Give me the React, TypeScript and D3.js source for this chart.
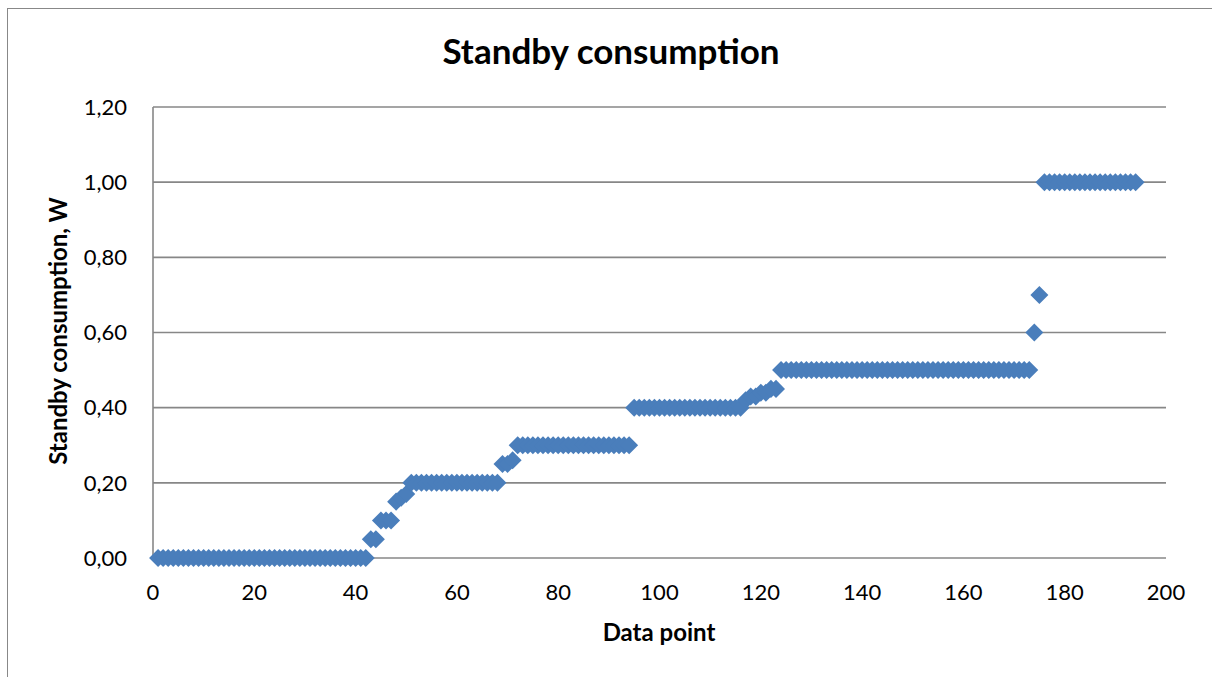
import { useEffect, useRef } from 'react'
import * as d3 from 'd3'

const W = 1212
const H = 677

// standby consumption (W) per data point, 1..194
const values: number[] = [
  0, 0, 0, 0, 0, 0, 0, 0, 0, 0,
  0, 0, 0, 0, 0, 0, 0, 0, 0, 0,
  0, 0, 0, 0, 0, 0, 0, 0, 0, 0,
  0, 0, 0, 0, 0, 0, 0, 0, 0, 0,
  0, 0, 0.05, 0.05, 0.1, 0.1, 0.1, 0.15, 0.16, 0.17,
  0.2, 0.2, 0.2, 0.2, 0.2, 0.2, 0.2, 0.2, 0.2, 0.2,
  0.2, 0.2, 0.2, 0.2, 0.2, 0.2, 0.2, 0.2, 0.25, 0.25,
  0.26, 0.3, 0.3, 0.3, 0.3, 0.3, 0.3, 0.3, 0.3, 0.3,
  0.3, 0.3, 0.3, 0.3, 0.3, 0.3, 0.3, 0.3, 0.3, 0.3,
  0.3, 0.3, 0.3, 0.3, 0.4, 0.4, 0.4, 0.4, 0.4, 0.4,
  0.4, 0.4, 0.4, 0.4, 0.4, 0.4, 0.4, 0.4, 0.4, 0.4,
  0.4, 0.4, 0.4, 0.4, 0.4, 0.4, 0.42, 0.43, 0.43, 0.44,
  0.44, 0.45, 0.45, 0.5, 0.5, 0.5, 0.5, 0.5, 0.5, 0.5,
  0.5, 0.5, 0.5, 0.5, 0.5, 0.5, 0.5, 0.5, 0.5, 0.5,
  0.5, 0.5, 0.5, 0.5, 0.5, 0.5, 0.5, 0.5, 0.5, 0.5,
  0.5, 0.5, 0.5, 0.5, 0.5, 0.5, 0.5, 0.5, 0.5, 0.5,
  0.5, 0.5, 0.5, 0.5, 0.5, 0.5, 0.5, 0.5, 0.5, 0.5,
  0.5, 0.5, 0.5, 0.6, 0.7, 1, 1, 1, 1, 1,
  1, 1, 1, 1, 1, 1, 1, 1, 1, 1,
  1, 1, 1, 1,
]
const points = values.map((v, i) => ({ x: i + 1, y: v }))

const xTicks = [0, 20, 40, 60, 80, 100, 120, 140, 160, 180, 200]
const yTicks = [0, 0.2, 0.4, 0.6, 0.8, 1.0, 1.2]

const FONT = 'Lato, "Open Sans", sans-serif'

export default function App() {
  const svgRef = useRef<SVGSVGElement | null>(null)

  useEffect(() => {
    if (!svgRef.current) return
    const svg = d3.select(svgRef.current)
    svg.selectAll('*').remove()

    const x = d3.scaleLinear().domain([0, 200]).range([153, 1166])
    const y = d3.scaleLinear().domain([0, 1.2]).range([558, 107])
    const fmt = (v: number) => v.toFixed(2).replace('.', ',')

    svg.append('rect').attr('width', W).attr('height', H).attr('fill', '#fff')

    // rámeček grafu
    svg
      .append('rect')
      .attr('x', 7.5)
      .attr('y', 8.5)
      .attr('width', W + 10)
      .attr('height', H + 10)
      .attr('fill', 'none')
      .attr('stroke', '#888')
      .attr('stroke-width', 1)

    // mřížka
    svg
      .append('g')
      .selectAll('line')
      .data(yTicks)
      .join('line')
      .attr('x1', x(0))
      .attr('x2', x(200))
      .attr('y1', (d) => y(d))
      .attr('y2', (d) => y(d))
      .attr('stroke', '#878787')
      .attr('stroke-width', 1.6)

    svg
      .append('line')
      .attr('x1', x(0))
      .attr('x2', x(0))
      .attr('y1', y(1.2))
      .attr('y2', y(0))
      .attr('stroke', '#878787')
      .attr('stroke-width', 1.6)

    svg
      .append('g')
      .selectAll('text')
      .data(yTicks)
      .join('text')
      .attr('x', 127)
      .attr('y', (d) => y(d))
      .attr('dy', '0.35em')
      .attr('text-anchor', 'end')
      .attr('font-family', FONT)
      .attr('font-size', 22)
      .attr('fill', '#000')
      .text(fmt)

    svg
      .append('g')
      .selectAll('text')
      .data(xTicks)
      .join('text')
      .attr('x', (d) => x(d))
      .attr('y', 600)
      .attr('text-anchor', 'middle')
      .attr('font-family', FONT)
      .attr('font-size', 22)
      .attr('fill', '#000')
      .text((d) => String(d))

    // body
    const diamond = d3.symbol().type(d3.symbolSquare).size(162)
    svg
      .append('g')
      .selectAll('path')
      .data(points)
      .join('path')
      .attr('d', diamond)
      .attr('transform', (d) => `translate(${x(d.x)},${y(d.y)}) rotate(45)`)
      .attr('fill', '#4A7EBB')

    svg
      .append('text')
      .attr('x', 611)
      .attr('y', 64)
      .attr('text-anchor', 'middle')
      .attr('font-family', FONT)
      .attr('font-weight', 'bold')
      .attr('font-size', 35)
      .text('Standby consumption')

    svg
      .append('text')
      .attr('x', 659)
      .attr('y', 641)
      .attr('text-anchor', 'middle')
      .attr('font-family', FONT)
      .attr('font-weight', 'bold')
      .attr('font-size', 24)
      .text('Data point')

    svg
      .append('text')
      .attr('transform', 'translate(67,331) rotate(-90)')
      .attr('text-anchor', 'middle')
      .attr('font-family', FONT)
      .attr('font-weight', 'bold')
      .attr('font-size', 24)
      .text('Standby consumption, W')
  }, [])

  return (
    <svg
      ref={svgRef}
      width={W}
      height={H}
      style={{ position: 'absolute', left: 0, top: 0, display: 'block' }}
    />
  )
}
